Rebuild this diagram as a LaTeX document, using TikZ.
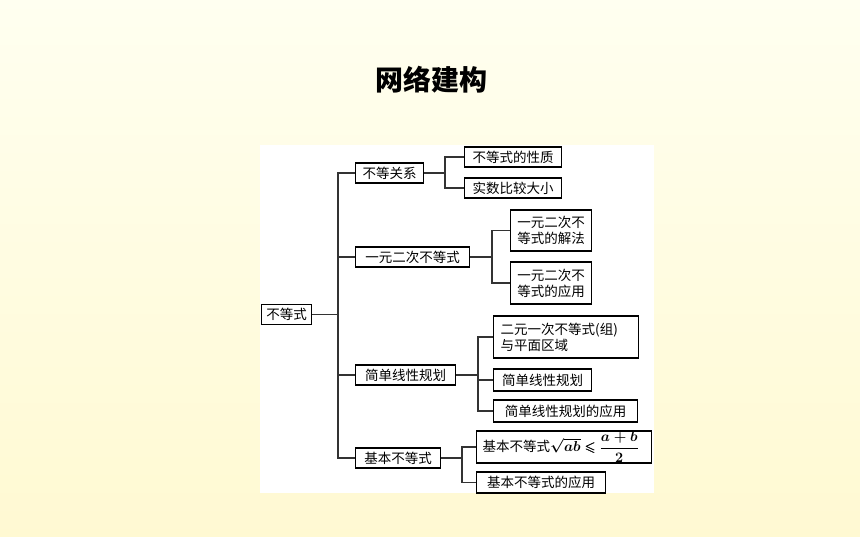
\documentclass[tikz,border=0pt]{standalone}
\usepackage{amsmath}
\usepackage{amssymb}
\usepackage{bm}
\usepackage{fontspec}
\newfontfamily\cjk{Noto Sans CJK SC}
\definecolor{bgtop}{HTML}{FFFFF0}
\definecolor{bgbot}{HTML}{FFF9D2}
\definecolor{linegray}{HTML}{333333}

\begin{document}
\begin{tikzpicture}[x=1pt, y=-1pt,
    box/.style={draw=black, line width=1.4pt, fill=white, inner sep=0pt, anchor=west,
      minimum height=20pt, font=\cjk\fontsize{13.5}{16}\selectfont},
    link/.style={draw=linegray, line width=1.2pt}]
  \useasboundingbox (0,0) rectangle (860,537);
  \shade[top color=bgtop, bottom color=bgbot] (0,0) rectangle (860,537);
  \fill[white] (260,145) rectangle (654,493);

  \node[font=\cjk\bfseries\fontsize{28}{32}\selectfont] (title) at (431,80) {网络建构};

  % levels
  \node[box, minimum width=50pt] (root) at (261,314.5) {不等式};
  \node[box, minimum width=68pt] (rel) at (355,173) {不等关系};
  \node[box, minimum width=114pt] (quad) at (355,257) {一元二次不等式};
  \node[box, minimum width=100pt] (lp) at (355,375) {简单线性规划};
  \node[box, minimum width=85pt] (basic) at (355,458) {基本不等式};

  \node[box, minimum width=97pt] (rel1) at (464,157) {不等式的性质};
  \node[box, minimum width=97pt] (rel2) at (464,188) {实数比较大小};

  \node[box, minimum width=81pt, minimum height=41pt, align=center] (quad1) at (510,230.5) {一元二次不\\等式的解法};
  \node[box, minimum width=81pt, minimum height=42pt, align=center] (quad2) at (510,283) {一元二次不\\等式的应用};

  \node[box, text width=131pt, inner xsep=7pt, minimum height=42pt, align=left] (lp1) at (493,337) {二元一次不等式(组)\\与平面区域};
  \node[box, minimum width=98pt, minimum height=22pt] (lp2) at (493,380) {简单线性规划};
  \node[box, minimum width=144pt, minimum height=22pt] (lp3) at (493,411) {简单线性规划的应用};

  \node[box, text width=163pt, inner xsep=6pt, minimum height=32pt, align=left] (basic1) at (476,447) {基本不等式$\bm{\sqrt{ab}\leqslant\dfrac{a+b}{2}}$};
  \node[box, minimum width=129pt, minimum height=21pt] (basic2) at (476,482.5) {基本不等式的应用};

  % connectors
  \coordinate (trunk) at (338,0);
  \coordinate (jrel) at (445,0);
  \coordinate (jquad) at (492,0);
  \coordinate (jlp) at (478,0);
  \coordinate (jbasic) at (462,0);

  \foreach \k in {rel,quad,lp,basic}
    \draw[link] (root.east) -- (root.east -| trunk) |- (\k.west);
  \foreach \k in {rel1,rel2}
    \draw[link] (rel.east) -- (rel.east -| jrel) |- (\k.west);
  \foreach \k in {quad1,quad2}
    \draw[link] (quad.east) -- (quad.east -| jquad) |- (\k.west);
  \foreach \k in {lp1,lp2,lp3}
    \draw[link] (lp.east) -- (lp.east -| jlp) |- (\k.west);
  \foreach \k in {basic1,basic2}
    \draw[link] (basic.east) -- (basic.east -| jbasic) |- (\k.west);
\end{tikzpicture}
\end{document}
